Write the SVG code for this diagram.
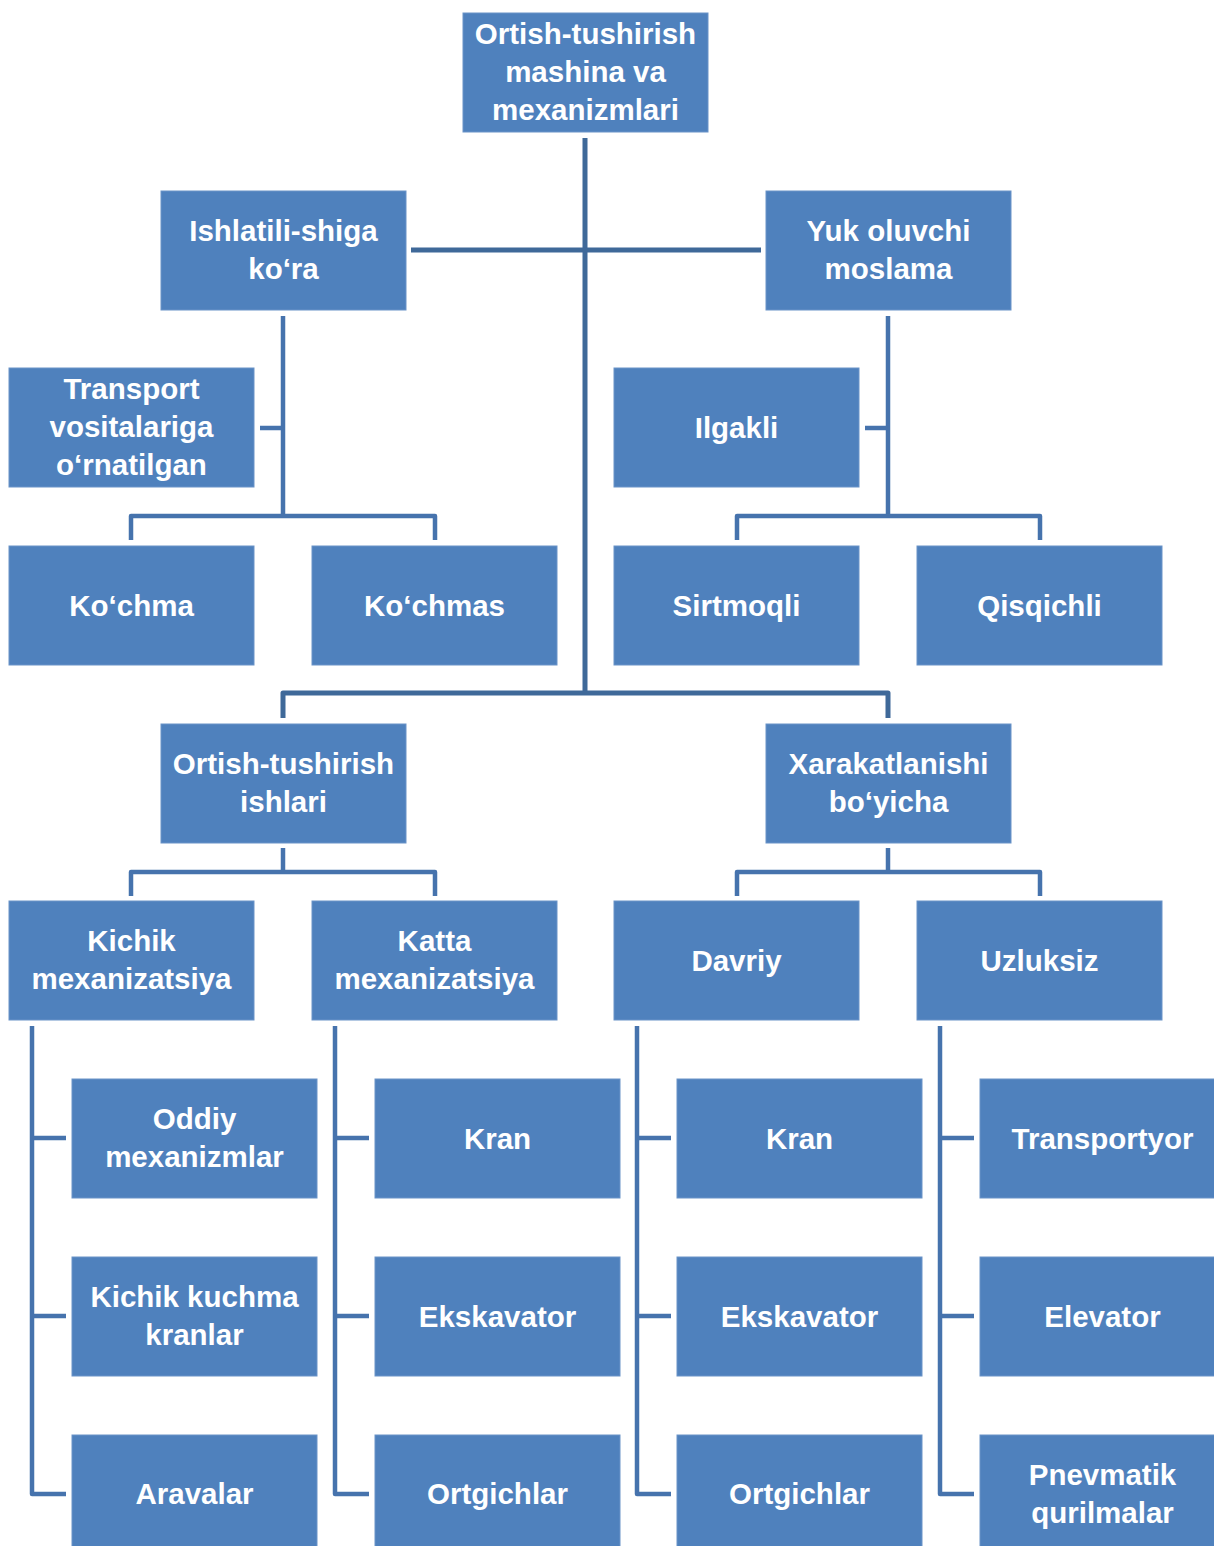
<svg xmlns="http://www.w3.org/2000/svg" width="1214" height="1546" viewBox="0 0 1214 1546">
<style>
  .box rect { fill: #4F81BD; stroke: #6A93C8; stroke-width: 1; }
  .box text { fill: #FFFFFF; font-family: "Liberation Sans", Arial, sans-serif; font-weight: bold; font-size: 29.5px; text-anchor: middle; }
  .cd { fill: none; stroke: #3F6999; stroke-width: 5; stroke-linejoin: round; }
  .cl { fill: none; stroke: #4673AD; stroke-width: 4.5; stroke-linejoin: round; }
</style>
<rect x="0" y="0" width="1214" height="1546" fill="#FFFFFF"/>
<g id="connectors">
  <path class="cd" d="M585,138 V693"/>
  <path class="cd" d="M411,250 H761"/>
  <path class="cd" d="M283,718 V693 H888 V718"/>
  <path class="cl" d="M283,316 V516"/>
  <path class="cl" d="M260,428 H283"/>
  <path class="cl" d="M131,540 V516 H435 V540"/>
  <path class="cl" d="M888,316 V516"/>
  <path class="cl" d="M865,428 H888"/>
  <path class="cl" d="M737,540 V516 H1040 V540"/>
  <path class="cl" d="M283,848 V872"/>
  <path class="cl" d="M131,896 V872 H435 V896"/>
  <path class="cl" d="M888,848 V872"/>
  <path class="cl" d="M737,896 V872 H1040 V896"/>
  <path class="cl" d="M32,1026 V1494 H66 M32,1138 H66 M32,1316 H66"/>
  <path class="cl" d="M335,1026 V1494 H369 M335,1138 H369 M335,1316 H369"/>
  <path class="cl" d="M637,1026 V1494 H671 M637,1138 H671 M637,1316 H671"/>
  <path class="cl" d="M940,1026 V1494 H974 M940,1138 H974 M940,1316 H974"/>
</g>
<g id="root" class="box"><rect x="463" y="13" width="245" height="119"/><text x="585.5" y="44">Ortish-tushirish</text><text x="585.5" y="82">mashina va</text><text x="585.5" y="120">mexanizmlari</text></g>
<g id="ishlatilishiga" class="box"><rect x="161" y="191" width="245" height="119"/><text x="283.5" y="241">Ishlatili-shiga</text><text x="283.5" y="279">ko‘ra</text></g>
<g id="yuk-oluvchi" class="box"><rect x="766" y="191" width="245" height="119"/><text x="888.5" y="241">Yuk oluvchi</text><text x="888.5" y="279">moslama</text></g>
<g id="transport" class="box"><rect x="9" y="368" width="245" height="119"/><text x="131.5" y="399">Transport</text><text x="131.5" y="437">vositalariga</text><text x="131.5" y="475">o‘rnatilgan</text></g>
<g id="ilgakli" class="box"><rect x="614" y="368" width="245" height="119"/><text x="736.5" y="438">Ilgakli</text></g>
<g id="kochma" class="box"><rect x="9" y="546" width="245" height="119"/><text x="131.5" y="616">Ko‘chma</text></g>
<g id="kochmas" class="box"><rect x="312" y="546" width="245" height="119"/><text x="434.5" y="616">Ko‘chmas</text></g>
<g id="sirtmoqli" class="box"><rect x="614" y="546" width="245" height="119"/><text x="736.5" y="616">Sirtmoqli</text></g>
<g id="qisqichli" class="box"><rect x="917" y="546" width="245" height="119"/><text x="1039.5" y="616">Qisqichli</text></g>
<g id="ortish-ishlari" class="box"><rect x="161" y="724" width="245" height="119"/><text x="283.5" y="774">Ortish-tushirish</text><text x="283.5" y="812">ishlari</text></g>
<g id="xarakatlanishi" class="box"><rect x="766" y="724" width="245" height="119"/><text x="888.5" y="774">Xarakatlanishi</text><text x="888.5" y="812">bo‘yicha</text></g>
<g id="kichik-mex" class="box"><rect x="9" y="901" width="245" height="119"/><text x="131.5" y="951">Kichik</text><text x="131.5" y="989">mexanizatsiya</text></g>
<g id="katta-mex" class="box"><rect x="312" y="901" width="245" height="119"/><text x="434.5" y="951">Katta</text><text x="434.5" y="989">mexanizatsiya</text></g>
<g id="davriy" class="box"><rect x="614" y="901" width="245" height="119"/><text x="736.5" y="971">Davriy</text></g>
<g id="uzluksiz" class="box"><rect x="917" y="901" width="245" height="119"/><text x="1039.5" y="971">Uzluksiz</text></g>
<g id="oddiy" class="box"><rect x="72" y="1079" width="245" height="119"/><text x="194.5" y="1129">Oddiy</text><text x="194.5" y="1167">mexanizmlar</text></g>
<g id="kichik-kuchma" class="box"><rect x="72" y="1257" width="245" height="119"/><text x="194.5" y="1307">Kichik kuchma</text><text x="194.5" y="1345">kranlar</text></g>
<g id="aravalar" class="box"><rect x="72" y="1435" width="245" height="119"/><text x="194.5" y="1504">Aravalar</text></g>
<g id="kran1" class="box"><rect x="375" y="1079" width="245" height="119"/><text x="497.5" y="1149">Kran</text></g>
<g id="ekskavator1" class="box"><rect x="375" y="1257" width="245" height="119"/><text x="497.5" y="1327">Ekskavator</text></g>
<g id="ortgichlar1" class="box"><rect x="375" y="1435" width="245" height="119"/><text x="497.5" y="1504">Ortgichlar</text></g>
<g id="kran2" class="box"><rect x="677" y="1079" width="245" height="119"/><text x="799.5" y="1149">Kran</text></g>
<g id="ekskavator2" class="box"><rect x="677" y="1257" width="245" height="119"/><text x="799.5" y="1327">Ekskavator</text></g>
<g id="ortgichlar2" class="box"><rect x="677" y="1435" width="245" height="119"/><text x="799.5" y="1504">Ortgichlar</text></g>
<g id="transportyor" class="box"><rect x="980" y="1079" width="245" height="119"/><text x="1102.5" y="1149">Transportyor</text></g>
<g id="elevator" class="box"><rect x="980" y="1257" width="245" height="119"/><text x="1102.5" y="1327">Elevator</text></g>
<g id="pnevmatik" class="box"><rect x="980" y="1435" width="245" height="119"/><text x="1102.5" y="1485">Pnevmatik</text><text x="1102.5" y="1523">qurilmalar</text></g>
</svg>
